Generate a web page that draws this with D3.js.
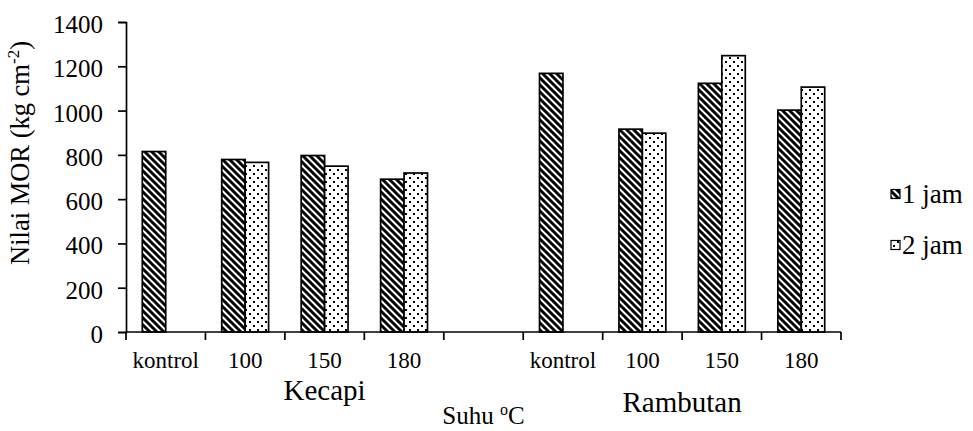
<!DOCTYPE html>
<html>
<head>
<meta charset="utf-8">
<script src="https://cdn.jsdelivr.net/npm/d3@7/dist/d3.min.js"></script>
<style>
  html, body { margin: 0; padding: 0; background: #fff; }
  svg { display: block; }
  svg text { font-family: "Liberation Serif", "Times New Roman", "DejaVu Serif", serif !important; fill: #000; }
</style>
</head>
<body>
<svg id="chart" width="973" height="431"></svg>
<script>
// ---- data ----
const categories = ["kontrol", "100", "150", "180", "", "kontrol", "100", "150", "180"];
const groups = [
  { name: "Kecapi", from: 0, to: 4 },
  { name: "Rambutan", from: 5, to: 8 }
];
const seriesNames = ["1 jam", "2 jam"];
const jam1 = [815, 779, 797, 690, null, 1168, 916, 1123, 1002];
const jam2 = [null, 766, 749, 718, null, null, 898, 1248, 1106];
const yTicks = [0, 200, 400, 600, 800, 1000, 1200, 1400];
const xTitle = "Suhu ";
const yTitle = "Nilai MOR (kg cm";

// ---- layout ----
const FONT = '"Liberation Serif", "Times New Roman", "DejaVu Serif", serif';
const svg = d3.select("#chart");
const mLeft = 126, mRight = 841, mTop = 22, mBottom = 332;

const defs = svg.append("defs");
const p1 = defs.append("pattern").attr("id", "pat1")
  .attr("patternUnits", "userSpaceOnUse").attr("width", 7).attr("height", 7);
p1.append("rect").attr("width", 7).attr("height", 7).attr("fill", "#fff");
p1.append("path").attr("d", "M-2,-2 L9,9 M-2,5 L2,9 M5,-2 L9,2")
  .attr("stroke", "#000").attr("stroke-width", 2.9);
const p2 = defs.append("pattern").attr("id", "pat2")
  .attr("patternUnits", "userSpaceOnUse").attr("width", 8).attr("height", 8);
p2.append("rect").attr("width", 8).attr("height", 8).attr("fill", "#fff");
p2.append("rect").attr("x", 1).attr("y", 1).attr("width", 2).attr("height", 2).attr("fill", "#000");
p2.append("rect").attr("x", 5).attr("y", 5).attr("width", 2).attr("height", 2).attr("fill", "#000");
const fills = ["url(#pat1)", "url(#pat2)"];

const x = d3.scaleBand().domain(d3.range(categories.length)).range([mLeft, mRight]).padding(0);
const bw = x.bandwidth();
const x1 = d3.scaleBand().domain(seriesNames).range([bw * 0.205, bw * 0.795]).padding(0);
const y = d3.scaleLinear().domain([0, 1400]).range([mBottom, mTop]);

// bars
const series = [jam1, jam2];
series.forEach((vals, si) => {
  svg.append("g").selectAll("rect")
    .data(vals.map((v, i) => ({ v, i })).filter(d => d.v != null))
    .join("rect")
    .attr("x", d => x(d.i) + x1(seriesNames[si]))
    .attr("y", d => y(d.v))
    .attr("width", x1.bandwidth())
    .attr("height", d => y(0) - y(d.v))
    .attr("fill", fills[si])
    .attr("stroke", "#000")
    .attr("stroke-width", 1.7);
});

// y axis
const yAxis = svg.append("g").attr("transform", `translate(${mLeft},0)`)
  .call(d3.axisLeft(y).tickValues(yTicks).tickSize(8).tickPadding(15).tickFormat(d3.format("d")));
yAxis.attr("font-family", FONT).attr("font-size", 25);
yAxis.selectAll("path,line").attr("stroke", "#000").attr("stroke-width", 1.7);
yAxis.selectAll("text").attr("font-family", FONT).attr("font-size", 25).attr("dy", "0.42em");

// x axis: baseline + boundary ticks
const xAxis = svg.append("g").attr("transform", `translate(0,${mBottom})`)
  .call(d3.axisBottom(x).tickSize(0).tickPadding(20).tickFormat(i => categories[i]));
xAxis.attr("font-family", FONT).attr("font-size", 23);
xAxis.select(".domain").remove();
xAxis.selectAll("text").attr("font-family", FONT).attr("font-size", 23).attr("dy", "0.71em");
const bounds = d3.range(categories.length).map(i => x(i)).concat([mRight]);
svg.append("g").selectAll("line").data(bounds).join("line")
  .attr("x1", d => d).attr("x2", d => d).attr("y1", mBottom).attr("y2", mBottom + 8)
  .attr("stroke", "#000").attr("stroke-width", 1.7);
svg.append("line").attr("x1", mLeft).attr("x2", mRight).attr("y1", mBottom).attr("y2", mBottom)
  .attr("stroke", "#000").attr("stroke-width", 1.7);

// group labels
const groupY = [400, 412];
groups.forEach((g, gi) => {
  const cx = (x(g.from) + x(g.to) + bw) / 2;
  svg.append("text").attr("x", cx).attr("y", groupY[gi]).attr("font-family", FONT)
    .attr("text-anchor", "middle").attr("font-size", 29).text(g.name);
});

// x title
const xt = svg.append("text").attr("x", (mLeft + mRight) / 2).attr("y", 424)
  .attr("text-anchor", "middle").attr("font-family", FONT).attr("font-size", 25);
xt.append("tspan").text(xTitle);
xt.append("tspan").attr("dy", -9).attr("font-size", 16).text("o");
xt.append("tspan").attr("dy", 9).text("C");

// y title
const ytt = svg.append("text").attr("transform", "translate(29,153) rotate(-90)")
  .attr("text-anchor", "middle").attr("font-family", FONT).attr("font-size", 26.5);
ytt.append("tspan").text(yTitle);
ytt.append("tspan").attr("dy", -10).attr("font-size", 17).text("-2");
ytt.append("tspan").attr("dy", 10).text(")");

// legend
const legY = [194, 245];
seriesNames.forEach((s, i) => {
  svg.append("rect").attr("x", 891).attr("y", legY[i] - 4.5).attr("width", 9).attr("height", 9)
    .attr("fill", fills[i]).attr("stroke", "#000").attr("stroke-width", 1.2);
  svg.append("text").attr("x", 902).attr("y", legY[i] + 9).attr("font-family", FONT)
    .attr("font-size", 27).text(s);
});
</script>
</body>
</html>
